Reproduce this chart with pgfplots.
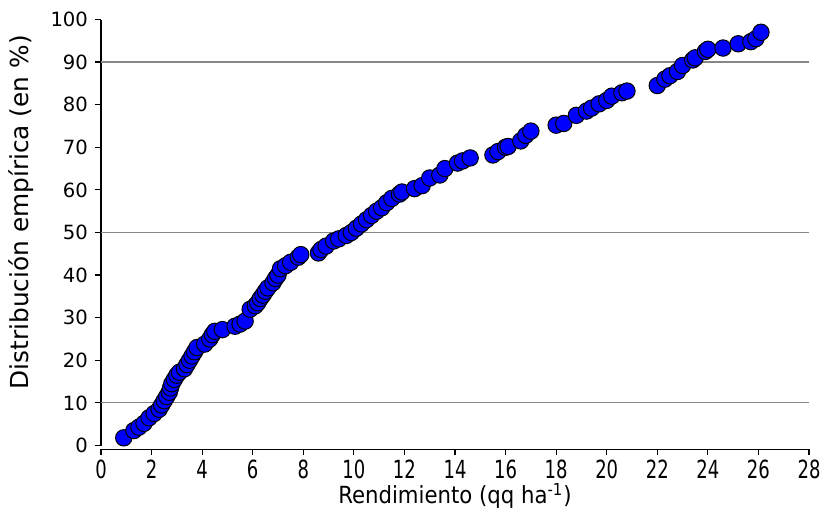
\documentclass[border=0pt]{standalone}
\usepackage{fontspec}
\setmainfont{DejaVu Sans}
\newfontfamily\condfont{DejaVu Sans Condensed}
\usepackage{graphicx}
\usepackage{pgfplots}
\pgfplotsset{compat=1.18}
\definecolor{ptblue}{RGB}{0,0,255}
\definecolor{gridgray}{RGB}{135,135,135}
\begin{document}
\begin{tikzpicture}
\begin{axis}[
  scale only axis, width=354pt, height=214.8pt,
  xmin=0, xmax=28, ymin=-0.85, ymax=100,
  xtick={0,2,...,28}, ytick={0,10,...,100},
  axis lines=left, axis line style={-, black, line width=0.6pt},
  y axis line style={shorten <=1.8pt},
  tick align=outside, major tick length=3pt,
  tick style={black, line width=0.6pt},
  extra y ticks={10,50,90}, extra y tick labels={},
  extra y tick style={grid=major, major tick length=0pt},
  major grid style={gridgray, line width=0.6pt},
  /pgf/number format/assume math mode=true,
  yticklabel style={font=\fontsize{9.8}{11}\selectfont},
  xticklabel={\scalebox{0.8}[1]{\condfont\fontsize{12.5}{14}\selectfont\pgfmathprintnumber{\tick}}},
  xticklabel style={yshift=1pt},
  xlabel={Rendimiento (qq ha\textsuperscript{-1})},
  ylabel={Distribución empírica (en \%)},
  xlabel style={font=\condfont\fontsize{11.8}{13}\selectfont,
    at={(axis description cs:0.5,-0.109)}, anchor=center},
  ylabel style={font=\fontsize{12.4}{14}\selectfont,
    at={(axis description cs:-0.113,0.551)}, anchor=center},
  clip=false,
]
\coordinate (ll) at (rel axis cs:0,0);
\coordinate (ur) at (rel axis cs:1,1);
\addplot[only marks, mark=*, mark size=4.1pt,
  mark options={fill=ptblue, draw=black, line width=0.5pt}] coordinates {
  (0.9,1.8) (1.3,3.5) (1.5,4.3) (1.7,5.2) (1.9,6.5) (2.1,7.5) (2.3,8.5)
  (2.4,9.5) (2.5,10.5) (2.6,11.5) (2.7,12.5) (2.75,13.5) (2.8,14.5)
  (2.9,15.5) (3.0,16.5) (3.1,17.2) (3.3,18) (3.4,19) (3.5,20) (3.6,21)
  (3.7,22) (3.8,23) (4.1,23.8) (4.3,25) (4.4,26) (4.5,26.8) (4.8,27.2)
  (5.3,28) (5.5,28.5) (5.7,29.2) (5.9,32) (6.1,32.8) (6.2,33.5) (6.3,34.5)
  (6.4,35.3) (6.5,36.2) (6.6,37) (6.8,38.2) (6.9,39.2) (7.0,40) (7.1,41.5)
  (7.3,42.2) (7.5,43) (7.8,44.2) (7.9,44.8) (8.6,45.2) (8.7,46) (8.9,46.8)
  (9.2,48) (9.4,48.5) (9.7,49.3) (9.9,50) (10.1,51) (10.3,52) (10.5,53)
  (10.7,54) (10.9,55) (11.1,55.8) (11.3,57) (11.5,58) (11.8,59) (11.9,59.5)
  (12.4,60.3) (12.7,61) (13.0,62.8) (13.4,63.5) (13.6,65) (14.1,66.3)
  (14.3,66.8) (14.6,67.5) (15.5,68.2) (15.7,69) (16.0,70) (16.1,70.2)
  (16.6,71.5) (16.8,72.8) (17.0,73.8) (18.0,75.2) (18.3,75.6) (18.8,77.5)
  (19.2,78.5) (19.4,79.2) (19.7,80.2) (20.0,81) (20.2,82) (20.6,82.8)
  (20.8,83.2) (22.0,84.5) (22.3,86) (22.5,86.8) (22.8,87.8) (23.0,89.2)
  (23.4,90.5) (23.5,91) (23.9,92.5) (24.0,93) (24.6,93.3) (25.2,94.3)
  (25.7,94.8) (25.9,95.5) (26.1,97)
};
\end{axis}
\pgfresetboundingbox
\path ([shift={(-50.5pt,-32.5pt)}]ll) rectangle ([shift={(6.5pt,9.75pt)}]ur);
\end{tikzpicture}
\end{document}
